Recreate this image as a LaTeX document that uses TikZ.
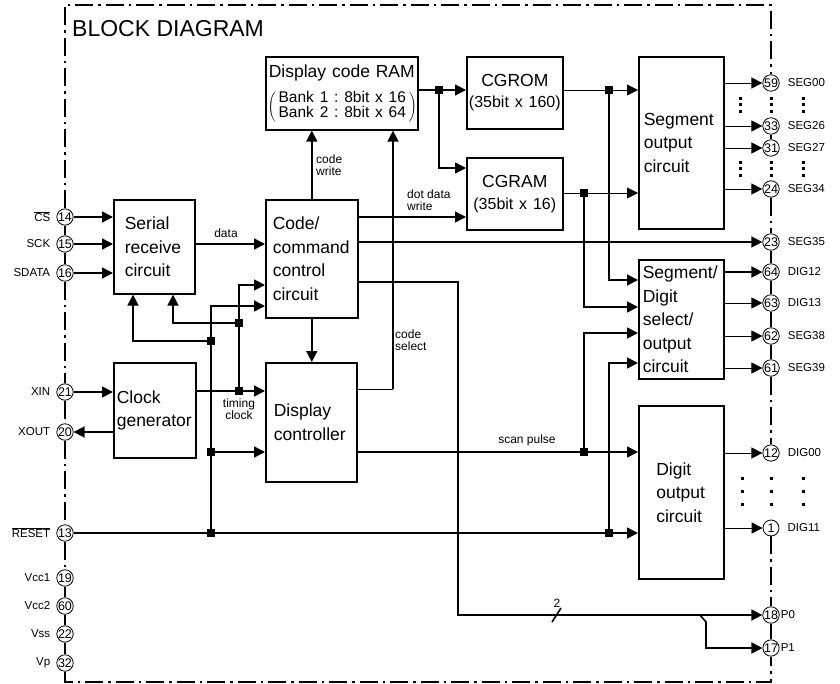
\documentclass[tikz,border=0pt]{standalone}
\usepackage{fontspec}
\setmainfont{Liberation Sans}
\usetikzlibrary{arrows.meta,positioning}
\frenchspacing

\begin{document}
\begin{tikzpicture}[x=1pt,y=-1pt,
    blk/.style={draw,line width=1.6pt,anchor=north west,align=left,inner ysep=0pt,font=\fontsize{17.5}{23.5}\selectfont},
    pin/.style={draw,circle,fill=white,line width=0.8pt,minimum size=16pt,inner sep=0pt,font=\fontsize{12.5}{12.5}\selectfont},
    pinlbl/.style={inner sep=1pt,font=\fontsize{11.5}{11.5}\selectfont},
    lbl/.style={inner sep=0pt,align=left,font=\fontsize{12}{12}\selectfont},
    jn/.style={fill,minimum size=8pt,inner sep=0pt},
    wire/.style={line width=1.6pt},
    fine/.style={line width=0.9pt},
    arr/.style={wire,-{Triangle[length=11pt,width=11pt]}},
    farr/.style={fine,-{Triangle[length=11pt,width=11pt]}},
    frame/.style={line width=1.6pt,dash pattern=on 18pt off 5pt on 2.5pt off 5pt}]
  \useasboundingbox (0,0) rectangle (840,684);
  \node[anchor=west,inner sep=0pt,font=\fontsize{23}{23}\selectfont] (title) at (72,29) {BLOCK DIAGRAM};

  % blocks
  \node[blk,minimum width=152pt,minimum height=73pt,text width=148pt,inner xsep=2pt,align=center] (ram) at (265,56)
    {Display code RAM\\[10pt]$\left(\,\vcenter{\hbox{\fontsize{15.5}{13}\selectfont\begin{tabular}{@{}l@{}}Bank 1 : 8bit x 16\\Bank 2 : 8bit x 64\end{tabular}}}\,\right)$};
  \node[blk,minimum width=96pt,minimum height=72pt,text width=92pt,inner xsep=2pt,align=center] (cgrom) at (466,56)
    {CGROM\\[-2pt]{\fontsize{16}{16}\selectfont (35bit x 160)}};
  \node[blk,minimum width=96pt,minimum height=72pt,text width=92pt,inner xsep=2pt,align=center] (cgram) at (466,157)
    {CGRAM\\[-2pt]{\fontsize{16}{16}\selectfont (35bit x 16)}};
  \node[blk,minimum width=85pt,minimum height=172pt,text width=75pt,inner xsep=5pt] (segout) at (638,56) {Segment\\output\\circuit};
  \node[blk,minimum width=81pt,minimum height=94pt,text width=59pt,inner xsep=11pt] (serial) at (113,199) {Serial\\receive\\circuit};
  \node[blk,minimum width=92pt,minimum height=118pt,text width=78pt,inner xsep=7pt] (code) at (265,199) {Code/\\command\\control\\circuit};
  \node[blk,minimum width=82pt,minimum height=95pt,text width=76pt,inner xsep=3pt] (clock) at (113,362) {Clock\\generator};
  \node[blk,minimum width=91pt,minimum height=119pt,text width=75pt,inner xsep=8pt] (disp) at (265,362) {Display\\controller};
  \node[blk,minimum width=85pt,minimum height=119pt,text width=77pt,inner xsep=4pt] (segdig) at (638,259) {Segment/\\Digit\\select/\\output\\circuit};
  \node[blk,minimum width=85pt,minimum height=173pt,text width=50pt,inner xsep=17.5pt] (digout) at (638,405) {Digit\\output\\circuit};

  % pins
  \foreach \n/\y/\t in {14/217/{$\overline{\mbox{CS}}$},15/244/SCK,16/273/SDATA,21/392/XIN,20/432/XOUT,
      13/533/{$\overline{\mbox{RESET}}$},19/578/Vcc1,60/606/Vcc2,22/634/Vss,32/663/Vp}{
    \node[pin] (p\n) at (65,\y) {\n};
    \node[pinlbl,left=5pt of p\n] (l\n) {\t};
  }
  \foreach \n/\y/\t in {59/83/SEG00,33/126/SEG26,31/148/SEG27,24/189/SEG34,23/242/SEG35,64/272/DIG12,
      63/303/DIG13,62/336/SEG38,61/368/SEG39,12/453/DIG00,1/528/DIG11}{
    \node[pin] (p\n) at (771,\y) {\n};
    \node[pinlbl,right=7pt of p\n] (l\n) {\t};
  }
  \foreach \n/\y/\t in {18/615/P0,17/648/P1}{
    \node[pin] (p\n) at (771,\y) {\n};
    \node[pinlbl,right=0pt of p\n] (l\n) {\t};
  }

  % frame
  \coordinate (tl) at (65,5);
  \coordinate (tr) at (771,5);
  \coordinate (bl) at (65,682);
  \coordinate (br) at (771,682);
  \draw[frame] (p14) -- (tl) -- (tr) -- (p59);
  \draw[frame] (p14) -- (p15) (p15) -- (p16) (p16) -- (p21) (p21) -- (p20) (p20) -- (p13) (p13) -- (p19)
    (p19) -- (p60) (p60) -- (p22) (p22) -- (p32) (p32) -- (bl) -- (br) -- (p17);
  \draw[frame] (p33) -- (p31) (p24) -- (p23) (p23) -- (p64) (p64) -- (p63) (p63) -- (p62) (p62) -- (p61)
    (p61) -- (p12) (p1) -- (p18) (p18) -- (p17);
  \foreach \x in {740,771,803} \foreach \y in {99,105,112,163,169,176}
    \fill (\x-1.5,\y-1.5) rectangle ++(3,3);
  \foreach \x in {742,771,803} \foreach \y in {478,491,504}
    \fill (\x-1.5,\y-1.5) rectangle ++(3,3);

  % junctions
  \node[jn] (j1) at (439,90) {};
  \node[jn] (j2) at (609,90) {};
  \node[jn] (j3) at (584,193) {};
  \node[jn] (j4) at (584,452) {};
  \node[jn] (j5) at (609,533) {};
  \node[jn] (j6) at (211,533) {};
  \node[jn] (j7) at (211,452) {};
  \node[jn] (j8) at (211,341) {};
  \node[jn] (j9) at (239,391) {};
  \node[jn] (j10) at (239,323) {};
  \coordinate (dd) at (357,217);
  \coordinate (cs) at (393,389);
  \coordinate (pb) at (458,282);
  \coordinate (pk) at (700,615);

  % serial side
  \foreach \n in {14,15,16} \draw[arr] (p\n) -- (p\n -| serial.west);
  \draw[arr] (serial.east |- p15) -- (code.west |- p15);
  \node[lbl] (tdata) at (226,233) {data};
  \draw[arr] (p21) -- (clock.west |- p21);
  \draw[arr] (clock.west |- p20) -- (p20);

  % clock and reset
  \draw[arr] (clock.east |- j9) -- (disp.west |- j9);
  \draw[arr] (j9) |- ([yshift=-86pt]code.north west);
  \draw[arr] (j10) -| ([xshift=60pt]serial.south west);
  \node[lbl,align=center] (ttc) at (239,409) {timing\\clock};
  \draw[arr] (p13) -- (digout.west |- p13);
  \draw[arr] (j6) |- ([yshift=-107pt]code.north west);
  \draw[arr] (j7) -- (disp.west |- j7);
  \draw[arr] (j8) -| ([xshift=20pt]serial.south west);
  \draw[arr] (j5) |- ([yshift=-104pt]segdig.north west);

  % code / display
  \draw[arr] (code.north) -- (code.north |- ram.south);
  \node[lbl,anchor=west] (tcw) at (316,165) {code\\write};
  \draw[arr] (code.south) -- (code.south |- disp.north);
  \draw[fine] (disp.east |- cs) -- (cs);
  \draw[arr] (cs) -- (cs |- ram.south);
  \node[lbl,anchor=west] (tcs) at (395,340) {code\\select};
  \draw[arr] (dd) -- (dd -| cgram.west);
  \node[lbl,anchor=west] (tdd) at (407,200) {dot data\\write};
  \draw[arr] (code.east |- p23) -- (p23);
  \draw[arr] (code.east |- pb) -- (pb) |- (p18);
  \draw[wire] (552,622) -- (561,608);
  \node[lbl] (tbus) at (557,603) {2};
  \draw[arr] (pk) -- ++(6,7) |- (p17);

  % character generators
  \draw[arr] (ram.east |- j1) -- (cgrom.west |- j1);
  \draw[arr] (j1) |- ([yshift=-11pt]cgram.north west);
  \draw[farr] (cgrom.east |- j2) -- (segout.west |- j2);
  \draw[arr] (j2) |- ([yshift=-21pt]segdig.north west);
  \draw[farr] (cgram.east |- j3) -- (segout.west |- j3);
  \draw[arr] (j3) |- ([yshift=-48pt]segdig.north west);
  \draw[arr] (disp.east |- j4) -- (digout.west |- j4);
  \node[lbl] (tsp) at (527,440) {scan pulse};
  \draw[arr] (j4) |- ([yshift=-74pt]segdig.north west);

  % outputs
  \foreach \n in {59,33,31,24} \draw[farr] (segout.east |- p\n) -- (p\n);
  \draw[arr] (segdig.east |- p64) -- (p64);
  \foreach \n in {63,62,61} \draw[farr] (segdig.east |- p\n) -- (p\n);
  \foreach \n in {12,1} \draw[farr] (digout.east |- p\n) -- (p\n);
\end{tikzpicture}
\end{document}
